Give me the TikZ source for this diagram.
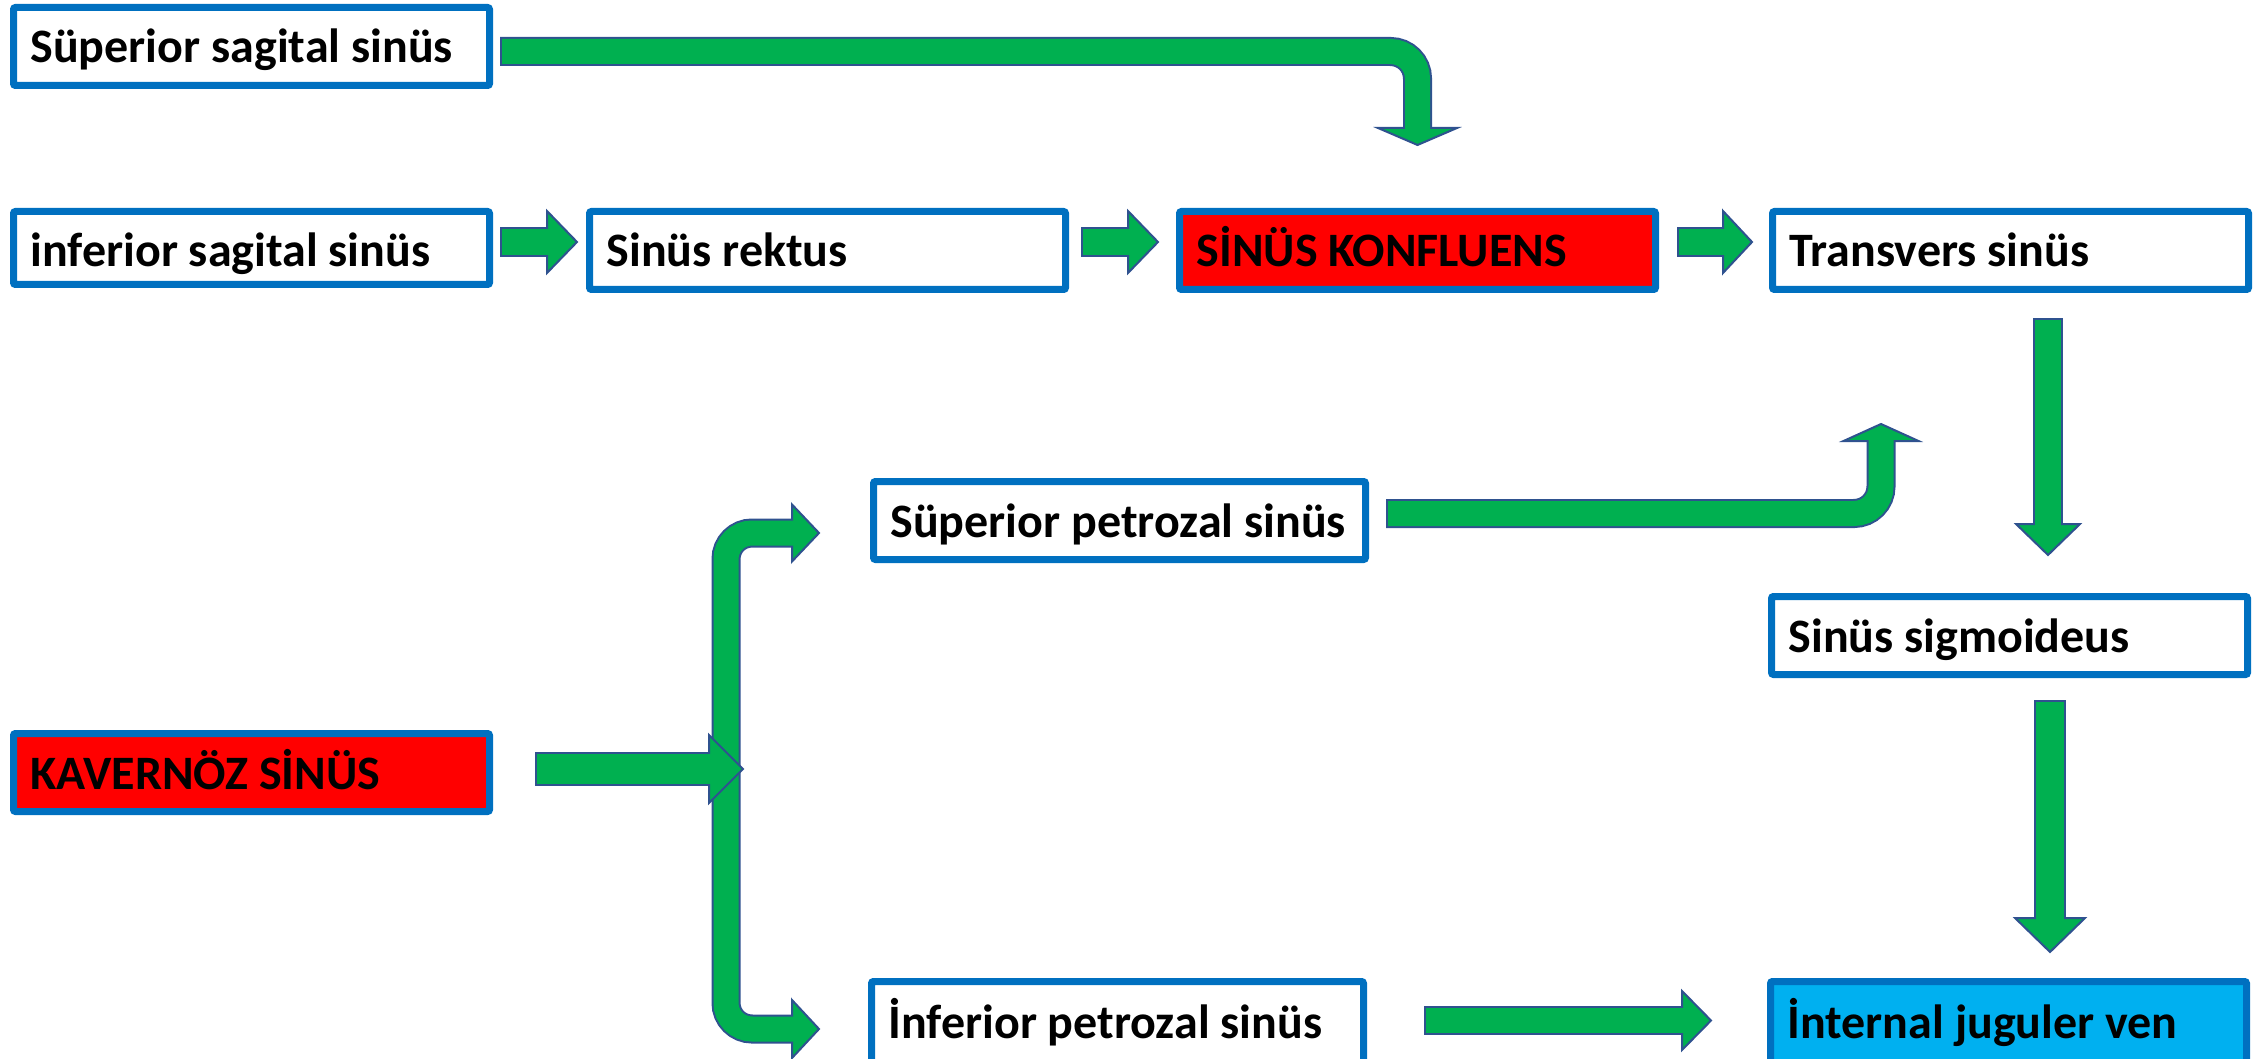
\documentclass[tikz,border=0pt]{standalone}
\usepackage{fontspec}
\setmainfont{Carlito}
\usetikzlibrary{calc}
\definecolor{boxblue}{HTML}{0070C0}
\definecolor{arrgreen}{HTML}{00B050}
\definecolor{arredge}{HTML}{2F528F}
\definecolor{jugblue}{HTML}{00B0F0}
\tikzset{
  sinus/.style={draw=boxblue, line width=7pt, fill=white, rounded corners=2pt, anchor=north west,
    minimum height=78pt, inner xsep=17pt, inner ysep=0pt, text width=442pt, align=flush left,
    text height=35pt, text depth=2pt, font=\fontsize{48}{56}\selectfont\bfseries},
  wide/.style={text width=458pt},
  tall/.style={minimum height=81pt},
  short/.style={minimum height=73pt, text height=40pt},
  shaftout/.style={draw=arredge, line cap=butt},
  shaftin/.style={draw=arrgreen, line cap=butt},
  arrhead/.style={fill=arrgreen, draw=arredge, line width=2pt, line join=miter},
}
\newcommand\fatarrow[5]{%
  \draw[shaftout, line width=#1, #4] #2;
  \filldraw[arrhead] #3;
  \draw[shaftin, line width=#1-4pt, #5] #2;}

\begin{document}
\begin{tikzpicture}[x=1pt,y=-1pt]
\useasboundingbox (0,0) rectangle (2259,1059);
\clip (0,0) rectangle (2259,1059);

\node[sinus] (supsag) at (10,4) {Süperior sagital sinüs};
\node[sinus, short] (infsag) at (10,208) {inferior sagital sinüs};
\node[sinus] (rektus) at (586,208) {Sinüs rektus};
\node[sinus, fill=red] (konfl) at (1176,208) {SİNÜS KONFLUENS};
\node[sinus] (transv) at (1769,208) {Transvers sinüs};
\node[sinus, wide] (suppet) at (870,478) {Süperior petrozal sinüs};
\node[sinus] (sigmo) at (1768,593) {Sinüs sigmoideus};
\node[sinus, fill=red] (kavern) at (10,730) {KAVERNÖZ SİNÜS};
\node[sinus, wide, tall] (infpet) at (868,978) {İnferior petrozal sinüs};
\node[sinus, tall, fill=jugblue] (jugul) at (1767,978) {İnternal juguler ven};

\coordinate (a1s) at ($(supsag.east)+(9,5)$);
\coordinate (a1t) at ($(konfl.north)+(0,-63)$);
\fatarrow{29pt}{(a1s) -| ($(a1t)+(0,-17)$)}{(a1t) -- ++(-39.5,-17) -- ++(79,0) -- cycle}
  {rounded corners=27pt, shorten <=-2pt}{rounded corners=27pt, shorten >=-3pt}

\coordinate (a2s) at ($(infsag.east)+(9,-6)$);
\coordinate (a2t) at ($(rektus.west)+(-9,-8.5)$);
\fatarrow{30pt}{(a2s) -- ($(a2t)+(-30,0)$)}{(a2t) -- ++(-30,-31) -- ++(0,62) -- cycle}
  {shorten <=-2pt}{shorten >=-3pt}

\coordinate (a3s) at ($(rektus.east)+(14,-8.5)$);
\coordinate (a3t) at ($(konfl.west)+(-18,-8.5)$);
\fatarrow{30pt}{(a3s) -- ($(a3t)+(-30,0)$)}{(a3t) -- ++(-30,-31) -- ++(0,62) -- cycle}
  {shorten <=-2pt}{shorten >=-3pt}

\coordinate (a4s) at ($(konfl.east)+(20,-8.5)$);
\coordinate (a4t) at ($(transv.west)+(-17,-8.5)$);
\fatarrow{30pt}{(a4s) -- ($(a4t)+(-29,0)$)}{(a4t) -- ++(-29,-31) -- ++(0,62) -- cycle}
  {shorten <=-2pt}{shorten >=-3pt}

\coordinate (a5s) at ($(suppet.east)+(19,-7)$);
\coordinate (a5t) at ($(transv.south)+(-129.5,131)$);
\fatarrow{29pt}{(a5s) -| ($(a5t)+(0,17)$)}{(a5t) -- ++(-37.5,17) -- ++(75,0) -- cycle}
  {rounded corners=27pt, shorten <=-2pt}{rounded corners=27pt, shorten >=-3pt}

\coordinate (a6s) at ($(transv.south)+(37.5,27)$);
\coordinate (a6t) at ($(sigmo.north)+(38.5,-38)$);
\fatarrow{30pt}{(a6s) -- ($(a6t)+(0,-31)$)}{(a6t) -- ++(-32,-31) -- ++(64,0) -- cycle}
  {shorten <=-2pt}{shorten >=-3pt}

\coordinate (a7s) at ($(sigmo.south)+(40.5,24)$);
\coordinate (a7t) at ($(jugul.north)+(41.5,-26)$);
\fatarrow{32pt}{(a7s) -- ($(a7t)+(0,-34)$)}{(a7t) -- ++(-35,-34) -- ++(70,0) -- cycle}
  {shorten <=-2pt}{shorten >=-3pt}

\coordinate (ftop) at ($(suppet.west)+(-51,12.5)$);
\coordinate (fbot) at ($(infpet.west)+(-49,7)$);
\fatarrow{29pt}{($(ftop)+(-27,0)$) -- ++(-66,0) |- ($(fbot)+(-27,0)$)}
  {(ftop) -- ++(-27,-28.5) -- ++(0,57) -- cycle (fbot) -- ++(-27,-29) -- ++(0,58) -- cycle}
  {rounded corners=26pt}{rounded corners=26pt, shorten <=-3pt, shorten >=-3pt}

\coordinate (a8s) at ($(kavern.east)+(44,-3.5)$);
\coordinate (a8t) at ($(kavern.east)+(250,-3.5)$);
\fatarrow{34pt}{(a8s) -- ($(a8t)+(-34,0)$)}{(a8t) -- ++(-34,-34) -- ++(0,68) -- cycle}
  {shorten <=-2pt}{shorten >=-3pt}

\coordinate (a9s) at ($(infpet.east)+(59,-1.5)$);
\coordinate (a9t) at ($(jugul.west)+(-56,-1.5)$);
\fatarrow{29pt}{(a9s) -- ($(a9t)+(-29,0)$)}{(a9t) -- ++(-29,-29.5) -- ++(0,59) -- cycle}
  {shorten <=-2pt}{shorten >=-3pt}
\end{tikzpicture}
\end{document}
